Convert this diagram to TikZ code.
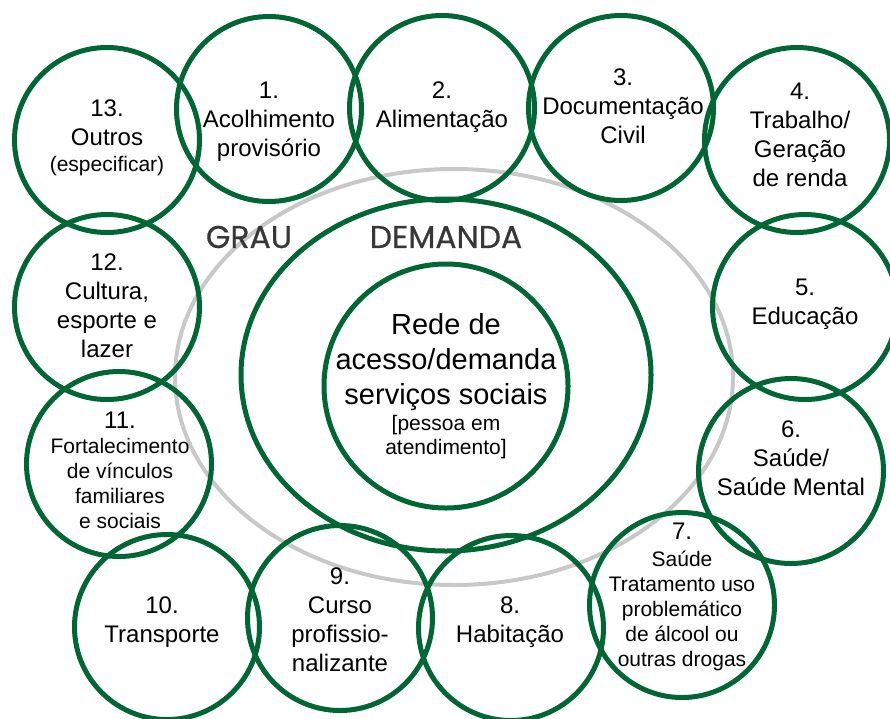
\documentclass[tikz,border=0pt]{standalone}
\usepackage{fontspec}
\setmainfont{Liberation Sans}
\newfontfamily\graufont[FakeBold=0.6]{Poppins}
\definecolor{ringgreen}{RGB}{0,102,51}
\definecolor{ringgrey}{RGB}{200,200,200}
\definecolor{titlegrey}{RGB}{55,55,55}
\tikzset{
  ring/.style = {circle, draw = ringgreen, line width = 5pt, minimum size = 185pt, inner sep = 0pt},
  itemtext/.style = {align = center, font = \fontsize{24}{29}\selectfont, inner sep = 0pt},
  smalltext/.style = {align = center, font = \fontsize{21}{25}\selectfont, inner sep = 0pt},
  bigtext/.style = {align = center, font = \fontsize{29}{35}\selectfont, inner sep = 0pt},
  grautext/.style = {font = \graufont\fontsize{31.5}{36}\selectfont, text = titlegrey, inner sep = 0pt},
}

\begin{document}
\begin{tikzpicture}[x = 1pt, y = -1pt]
    \useasboundingbox (0,0) rectangle (890,718);
    \clip (0,0) rectangle (890,718);
    % grau / demanda rings
    \draw[ringgrey, line width = 4pt] (454,377) ellipse (279pt and 208pt);
    \draw[ringgreen, line width = 5pt] (446,375) ellipse (205pt and 176pt);
    \node[ring, minimum size = 244pt] (rede) at (446,386) {};
    \node[grautext] (grau) at (249,237) {GRAU};
    \node[grautext] (demanda) at (446,237) {DEMANDA};
    \node[bigtext] (tcenter) at (446,362) {Rede de\\acesso/demanda\\serviços sociais};
    \node[smalltext, font = \fontsize{21}{24}\selectfont] (tsub) at (446,437) {[pessoa em\\atendimento]};
    % service circles
    \node[ring] (c1) at (269,109) {};
    \node[ring] (c2) at (442,108) {};
    \node[ring] (c3) at (621,108) {};
    \node[ring] (c4) at (797,140) {};
    \node[ring] (c5) at (805,307) {};
    \node[ring] (c6) at (791,471) {};
    \node[ring] (c7) at (682,605) {};
    \node[ring] (c8) at (511,628) {};
    \node[ring] (c9) at (340,618) {};
    \node[ring] (c10) at (167,627) {};
    \node[ring] (c11) at (119,464) {};
    \node[ring] (c12) at (107,307) {};
    \node[ring] (c13) at (107,140) {};
    % labels
    \node[itemtext] (t1) at (269,121.5) {1.\\Acolhimento\\provisório};
    \node[itemtext] (t2) at (442,107.5) {2.\\Alimentação};
    \node[itemtext] (t3) at (623,106) {3.\\Documentação\\Civil};
    \node[itemtext] (t4) at (800,135) {4.\\Trabalho/\\Geração\\de renda};
    \node[itemtext] (t5) at (805,304.5) {5.\\Educação};
    \node[itemtext] (t6) at (791,458) {6.\\Saúde/\\Saúde Mental};
    \node[smalltext] (t7) at (682,596.5) {{\fontsize{24}{25}\selectfont 7.}\\[2pt]Saúde\\Tratamento uso\\problemático\\de álcool ou\\outras drogas};
    \node[itemtext] (t8) at (510,622.5) {8.\\Habitação};
    \node[itemtext] (t9) at (340,619.5) {9.\\Curso\\profissio-\\nalizante};
    \node[itemtext] (t10) at (162,622) {10.\\Transporte};
    \node[smalltext] (t11) at (120,470) {{\fontsize{24}{25}\selectfont 11.}\\Fortalecimento\\de vínculos\\familiares\\e sociais};
    \node[itemtext] (t12) at (107,305.5) {12.\\Cultura,\\esporte e\\lazer};
    \node[itemtext] (t13) at (107,138) {13.\\Outros\\[-3pt]{\fontsize{21}{25}\selectfont (especificar)}};
\end{tikzpicture}
\end{document}
